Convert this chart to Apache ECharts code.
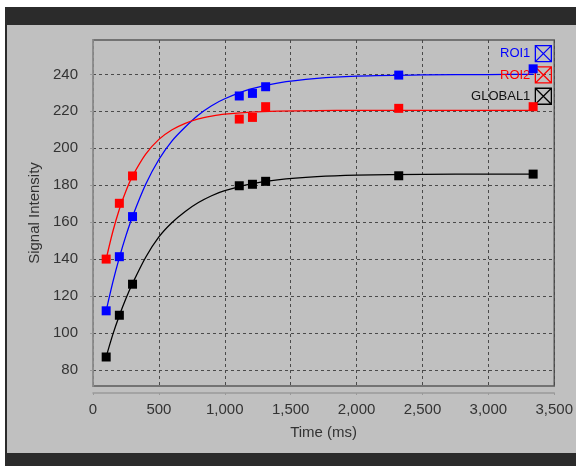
<!DOCTYPE html>
<html><head><meta charset="utf-8">
<script src="https://cdn.jsdelivr.net/npm/echarts@6/dist/echarts.min.js"></script>
<style>html,body{margin:0;padding:0;background:#fff}#c{width:576px;height:468px}</style>
</head><body><div id="c"></div>
<script>
const seriesNames = ['ROI1', 'ROI2', 'GLOBAL1'];
const seriesColors = ['#0000ff', '#ff0000', '#000000'];
const sampleTimes = [100, 200, 300, 1110, 1210, 1310, 2320, 3340];
const roi1Points = [112, 141.3, 163, 228.3, 229.7, 233.3, 239.6, 243];
const roi2Points = [140, 170.2, 185, 215.8, 216.7, 222.5, 221.6, 222.5];
const global1Points = [87, 109.6, 126.4, 179.7, 180.5, 182.1, 185.1, 186];
const fitTimes = [100, 150, 200, 250, 300, 400, 500, 600, 700, 800, 900, 1000, 1200, 1400, 1700, 2000, 2500, 3000, 3340];
const roi1Fit = [112.0, 127.4, 140.8, 152.7, 163.1, 180.5, 193.9, 204.0, 211.5, 218.0, 223.0, 226.8, 232.1, 235.3, 237.8, 239.0, 239.7, 239.9, 240.0];
const roi2Fit = [140.0, 154.8, 167.0, 176.9, 184.9, 196.8, 204.8, 210.0, 213.5, 215.9, 217.4, 218.5, 219.6, 220.1, 220.4, 220.5, 220.5, 220.5, 220.5];
const global1Fit = [87.1, 99.1, 109.5, 118.7, 126.8, 141.0, 152.0, 159.8, 165.8, 170.6, 174.3, 177.0, 180.7, 182.9, 184.6, 185.4, 185.9, 186.0, 186.0];
const yTicks = [80, 100, 120, 140, 160, 180, 200, 220, 240];
const xAxisTitle = 'Time (ms)';
const yAxisTitle = 'Signal Intensity';

const pointSets = [roi1Points, roi2Points, global1Points];
const fitSets = [roi1Fit, roi2Fit, global1Fit];
const FONT = '"Liberation Sans", Arial, sans-serif';
const pair = (xs, ys) => xs.map((x, i) => [x, ys[i]]);

const series = [];
seriesNames.forEach((name, k) => {
  series.push({
    name, type: 'line', smooth: 0.3, showSymbol: false, symbol: 'none',
    data: pair(fitTimes, fitSets[k]),
    lineStyle: { color: seriesColors[k], width: 1.3 }, itemStyle: { color: seriesColors[k] },
    z: 3, silent: true
  });
});
seriesNames.forEach((name, k) => {
  series.push({
    name, type: 'scatter', symbol: 'rect', symbolSize: 9,
    data: pair(sampleTimes, pointSets[k]),
    itemStyle: { color: seriesColors[k], opacity: 1 },
    z: 4, silent: true
  });
});

const chart = echarts.init(document.getElementById('c'), null, { renderer: 'canvas' });
chart.setOption({
  animation: false,
  backgroundColor: '#ffffff',
  textStyle: { fontFamily: FONT },
  graphic: [
    { type: 'rect', shape: { x: 0, y: 7, width: 576, height: 446 }, style: { fill: '#2b2b2b' }, z: -10 },
    { type: 'rect', shape: { x: 7, y: 25, width: 569, height: 428 }, style: { fill: '#c0c0c0' }, z: -9 },
    { type: 'rect', shape: { x: 0, y: 453, width: 576, height: 13 }, style: { fill: '#2b2b2b' }, z: -9 },
    { type: 'rect', shape: { x: 0, y: 0, width: 5, height: 468 }, style: { fill: '#ffffff' }, z: -8 }
  ],
  grid: {
    left: 93, right: 18, top: 40, bottom: 82,
    show: true, backgroundColor: '#c0c0c0', borderColor: '#5a5a5a', borderWidth: 1.5
  },
  legend: {
    orient: 'vertical', right: 24, top: 45, itemWidth: 16, itemHeight: 16, itemGap: 4,
    align: 'right', padding: 0, textStyle: { fontSize: 13, fontFamily: FONT },
    data: seriesNames.map((n, k) => ({
      name: n,
      icon: 'path://M0,0L10,0L10,10L0,10Z M0,0L10,10 M10,0L0,10',
      itemStyle: { color: 'transparent', borderColor: seriesColors[k], borderWidth: 1.3 },
      textStyle: { color: k === 2 ? '#111' : seriesColors[k], fontSize: 13, lineHeight: 16 }
    }))
  },
  xAxis: {
    type: 'value', min: 0, max: 3500, interval: 500, offset: 7,
    name: xAxisTitle, nameLocation: 'middle', nameGap: 32,
    nameTextStyle: { fontSize: 15, color: '#333', fontFamily: FONT },
    axisLine: { show: true, lineStyle: { color: '#999', width: 1.5 } },
    axisTick: { show: true, length: 2, lineStyle: { color: '#999' } },
    axisLabel: { fontSize: 15, color: '#333', margin: 9, fontFamily: FONT,
      formatter: v => v.toLocaleString('en-US') },
    splitLine: { show: true, lineStyle: { color: '#4a4a4a', type: [3, 3], width: 1 } }
  },
  yAxis: {
    type: 'value', min: 71.3, max: 258.6, offset: 6,
    name: yAxisTitle, nameLocation: 'middle', nameGap: 45, nameRotate: 90,
    nameTextStyle: { fontSize: 15, color: '#333', fontFamily: FONT },
    axisLine: { show: true, lineStyle: { color: '#999', width: 1.5 } },
    axisTick: { show: true, length: 3, customValues: yTicks, lineStyle: { color: '#999' } },
    axisLabel: { fontSize: 15, color: '#333', margin: 9, customValues: yTicks, fontFamily: FONT },
    splitLine: { show: true, lineStyle: { color: '#4a4a4a', type: [3, 3], width: 1 } }
  },
  series
});
</script></body></html>
